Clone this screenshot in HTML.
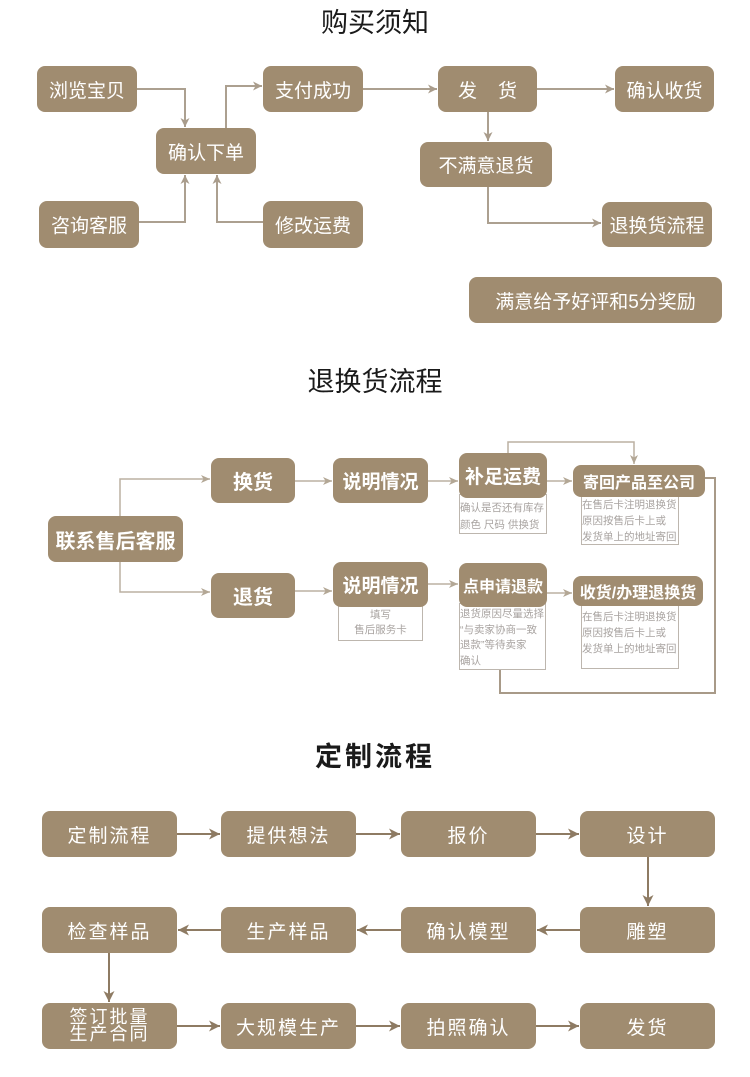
<!DOCTYPE html>
<html><head><meta charset="utf-8">
<style>
*{margin:0;padding:0;box-sizing:border-box;}
body{width:750px;height:1077px;background:#fff;position:relative;overflow:hidden;font-family:"Liberation Sans","Noto Sans CJK SC",sans-serif;}
.t{position:absolute;left:0;width:750px;text-align:center;color:#1a1a1a;}
.b{position:absolute;background:#a08c70;border-radius:8px;color:#fff;display:flex;align-items:center;justify-content:center;font-size:19px;white-space:nowrap;}
.b2{font-weight:bold;}
.n{position:absolute;background:#fff;border:1px solid #bdb6ae;color:#a8a3a0;font-size:10.5px;line-height:16px;padding-top:1px;white-space:nowrap;overflow:hidden;}
.c{letter-spacing:2px;}
svg{position:absolute;left:0;top:0;}
</style></head><body>

<div class="t" style="top:7px;font-size:27px;line-height:32px;">购买须知</div>
<div class="t" style="top:366px;font-size:27px;line-height:32px;">退换货流程</div>
<div class="t" style="top:741px;font-size:27px;line-height:32px;font-weight:bold;letter-spacing:3px;">定制流程</div>

<svg width="750" height="1077" viewBox="0 0 750 1077">
<defs>
<marker id="a1" markerUnits="userSpaceOnUse" markerWidth="12" markerHeight="12" refX="10" refY="6" orient="auto"><path d="M1,1.5 L10,6 L1,10.5 L3.5,6 Z" fill="#a99c8b"/></marker>
<marker id="a2" markerUnits="userSpaceOnUse" markerWidth="12" markerHeight="12" refX="10" refY="6" orient="auto"><path d="M1,2 L10,6 L1,10 L3.5,6 Z" fill="#b3a795"/></marker>
<marker id="a3" markerUnits="userSpaceOnUse" markerWidth="14" markerHeight="14" refX="12" refY="7" orient="auto"><path d="M1,1.5 L12,7 L1,12.5 L4,7 Z" fill="#8e7b63"/></marker>
</defs>
<g fill="none" stroke="#aca090" stroke-width="2">
<path d="M137 89 H185 V127" marker-end="url(#a1)"/>
<path d="M139 222 H185 V175" marker-end="url(#a1)"/>
<path d="M263 222 H217 V175" marker-end="url(#a1)"/>
<path d="M226 128 V86 H262" marker-end="url(#a1)"/>
<path d="M363 89 H437" marker-end="url(#a1)"/>
<path d="M537 89 H614" marker-end="url(#a1)"/>
<path d="M488 112 V141" marker-end="url(#a1)"/>
<path d="M488 187 V223 H601" marker-end="url(#a1)"/>
</g>
<g fill="none" stroke="#bbb0a2" stroke-width="1.5">
<path d="M120 516 V479 H210" marker-end="url(#a2)"/>
<path d="M120 562 V592 H210" marker-end="url(#a2)"/>
<path d="M295 481 H332" marker-end="url(#a2)"/>
<path d="M295 591 H332" marker-end="url(#a2)"/>
<path d="M428 481 H458" marker-end="url(#a2)"/>
<path d="M428 584 H458" marker-end="url(#a2)"/>
<path d="M547 481 H572" marker-end="url(#a2)"/>
<path d="M547 593 H572" marker-end="url(#a2)"/>
<path d="M508 453 V442 H634 V464" marker-end="url(#a2)"/>
</g>
<path d="M705 478 H715 V693 H500 V670" fill="none" stroke="#a89a88" stroke-width="2"/>
<g fill="none" stroke="#8e7b63" stroke-width="2">
<path d="M177 834 H220" marker-end="url(#a3)"/>
<path d="M356 834 H400" marker-end="url(#a3)"/>
<path d="M536 834 H579" marker-end="url(#a3)"/>
<path d="M648 857 V906" marker-end="url(#a3)"/>
<path d="M580 930 H537" marker-end="url(#a3)"/>
<path d="M401 930 H357" marker-end="url(#a3)"/>
<path d="M221 930 H178" marker-end="url(#a3)"/>
<path d="M109 953 V1002" marker-end="url(#a3)"/>
<path d="M177 1026 H220" marker-end="url(#a3)"/>
<path d="M356 1026 H400" marker-end="url(#a3)"/>
<path d="M536 1026 H579" marker-end="url(#a3)"/>
</g>
</svg>

<!-- Section 1 -->
<div class="b" style="left:37px;top:66px;width:100px;height:46px;">浏览宝贝</div>
<div class="b" style="left:156px;top:128px;width:100px;height:46px;">确认下单</div>
<div class="b" style="left:263px;top:66px;width:100px;height:46px;">支付成功</div>
<div class="b" style="left:39px;top:201px;width:100px;height:47px;">咨询客服</div>
<div class="b" style="left:263px;top:201px;width:100px;height:47px;">修改运费</div>
<div class="b" style="left:438px;top:66px;width:99px;height:46px;">发&nbsp;&nbsp;&nbsp;&nbsp;货</div>
<div class="b" style="left:615px;top:66px;width:99px;height:46px;">确认收货</div>
<div class="b" style="left:420px;top:142px;width:132px;height:45px;">不满意退货</div>
<div class="b" style="left:602px;top:202px;width:110px;height:45px;">退换货流程</div>
<div class="b" style="left:469px;top:277px;width:253px;height:46px;">满意给予好评和5分奖励</div>

<!-- Section 2 -->
<div class="n" style="left:338px;top:600px;width:85px;height:41px;text-align:center;padding-top:7px;line-height:15px;">填写<br>售后服务卡</div>
<div class="n" style="left:459px;top:494px;width:88px;height:40px;padding-top:5px;line-height:17px;">确认是否还有库存<br>颜色 尺码 供换货</div>
<div class="n" style="left:581px;top:494px;width:98px;height:51px;padding-top:2px;line-height:16px;">在售后卡注明退换货<br>原因按售后卡上或<br>发货单上的地址寄回</div>
<div class="n" style="left:459px;top:603px;width:87px;height:67px;padding-top:3px;line-height:15.5px;">退货原因尽量选择<br>“与卖家协商一致<br>退款”等待卖家<br>确认</div>
<div class="n" style="left:581px;top:604px;width:98px;height:65px;padding-top:4px;line-height:16px;">在售后卡注明退换货<br>原因按售后卡上或<br>发货单上的地址寄回</div>

<div class="b b2" style="left:48px;top:516px;width:135px;height:46px;font-size:20px;">联系售后客服</div>
<div class="b b2" style="left:211px;top:458px;width:84px;height:45px;font-size:20px;">换货</div>
<div class="b b2" style="left:211px;top:573px;width:84px;height:45px;font-size:20px;">退货</div>
<div class="b b2" style="left:333px;top:458px;width:95px;height:45px;font-size:19px;">说明情况</div>
<div class="b b2" style="left:333px;top:562px;width:95px;height:45px;font-size:19px;">说明情况</div>
<div class="b b2" style="left:459px;top:453px;width:88px;height:45px;font-size:19px;">补足运费</div>
<div class="b b2" style="left:573px;top:465px;width:132px;height:32px;font-size:16px;">寄回产品至公司</div>
<div class="b b2" style="left:459px;top:563px;width:88px;height:44px;font-size:16px;">点申请退款</div>
<div class="b b2" style="left:573px;top:576px;width:130px;height:30px;font-size:16px;">收货/办理退换货</div>

<!-- Section 3 -->
<div class="b c" style="left:42px;top:811px;width:135px;height:46px;">定制流程</div>
<div class="b c" style="left:221px;top:811px;width:135px;height:46px;">提供想法</div>
<div class="b c" style="left:401px;top:811px;width:135px;height:46px;">报价</div>
<div class="b c" style="left:580px;top:811px;width:135px;height:46px;">设计</div>
<div class="b c" style="left:42px;top:907px;width:135px;height:46px;">检查样品</div>
<div class="b c" style="left:221px;top:907px;width:135px;height:46px;">生产样品</div>
<div class="b c" style="left:401px;top:907px;width:135px;height:46px;">确认模型</div>
<div class="b c" style="left:580px;top:907px;width:135px;height:46px;">雕塑</div>
<div class="b c" style="left:42px;top:1003px;width:135px;height:46px;font-size:18px;line-height:17px;text-align:center;">签订批量<br>生产合同</div>
<div class="b c" style="left:221px;top:1003px;width:135px;height:46px;">大规模生产</div>
<div class="b c" style="left:401px;top:1003px;width:135px;height:46px;">拍照确认</div>
<div class="b c" style="left:580px;top:1003px;width:135px;height:46px;">发货</div>

</body></html>
